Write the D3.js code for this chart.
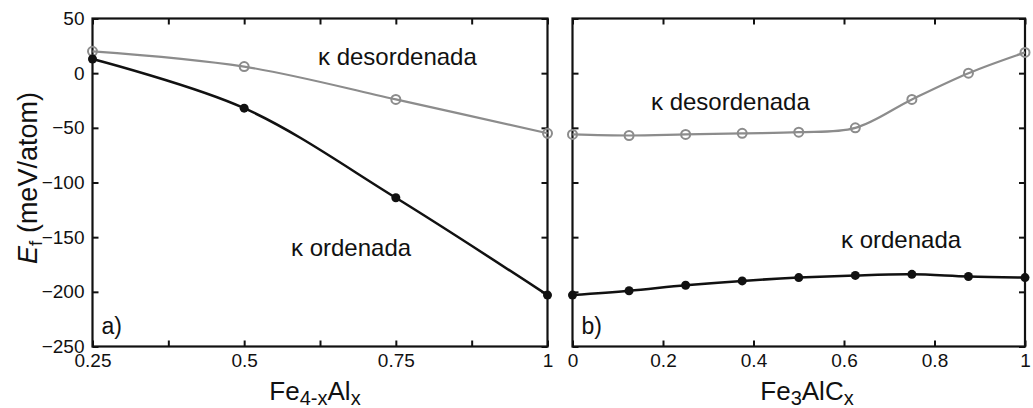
<!DOCTYPE html>
<html>
<head>
<meta charset="utf-8">
<script src="https://cdn.jsdelivr.net/npm/d3@7"></script>
<style>
  body { margin: 0; background: #fff; }
  text { font-family: "Liberation Sans", Arial, sans-serif; fill: #111; }
</style>
</head>
<body>
<div class="box"></div>
<script>
// panel a : Fe4-xAlx
const xA = [0.25, 0.5, 0.75, 1];
const desA = [20, 6, -24, -55];
const ordA = [13, -32, -114, -203];

// panel b : Fe3AlCx
const xB = [0, 0.125, 0.25, 0.375, 0.5, 0.625, 0.75, 0.875, 1];
const desB = [-56, -57, -56, -55, -54, -50, -24, 0, 19];
const ordB = [-203, -199, -194, -190, -187, -185, -184, -186, -187];

// ticks
const yTicks = [-250, -200, -150, -100, -50, 0, 50];
const xTicksA = [0.25, 0.375, 0.5, 0.625, 0.75, 0.875, 1];
const xLabelsA = [0.25, 0.5, 0.75, 1];
const xTicksB = [0, 0.2, 0.4, 0.6, 0.8, 1];

const W = 1033, H = 408;
const yTop = 18.5, yBot = 346.5;

const svg = d3.select('.box').append('svg')
              .attr('width', W)
              .attr('height', H);

const y = d3.scaleLinear().domain([-250, 50]).range([yBot, yTop]);

const panels = [
  {x: d3.scaleLinear().domain([0.25, 1]).range([92.5, 547.5]), xs: xA, des: desA, ord: ordA,
   ticks: xTicksA, fmt: d => xLabelsA.includes(d) ? String(d) : '', yLabels: true, tag: 'a)',
   desPos: [318, 65], ordPos: [291, 256]},
  {x: d3.scaleLinear().domain([0, 1]).range([572.5, 1025]), xs: xB, des: desB, ord: ordB,
   ticks: xTicksB, fmt: d => String(d), yLabels: false, tag: 'b)',
   desPos: [651, 110], ordPos: [841, 248]}
];

const line = (x) => d3.line()
                      .x(d => x(d[0]))
                      .y(d => y(d[1]))
                      .curve(d3.curveCatmullRom.alpha(0.5));

panels.forEach(p => {
  const x0 = p.x.range()[0], x1 = p.x.range()[1];
  const g = svg.append('g');

  // axes (ticks inward, all four sides)
  const bot = g.append('g').attr('transform', `translate(0, ${yBot})`)
               .call(d3.axisBottom(p.x).tickValues(p.ticks).tickFormat(p.fmt).tickSizeInner(-6).tickSizeOuter(0).tickPadding(7));
  const topAx = g.append('g').attr('transform', `translate(0, ${yTop})`)
               .call(d3.axisTop(p.x).tickValues(p.ticks).tickFormat('').tickSizeInner(-6).tickSizeOuter(0));
  const left = g.append('g').attr('transform', `translate(${x0}, 0)`)
               .call(d3.axisLeft(y).tickValues(yTicks).tickFormat(p.yLabels ? d3.format('d') : '').tickSizeInner(-6).tickSizeOuter(0).tickPadding(8));
  const right = g.append('g').attr('transform', `translate(${x1}, 0)`)
               .call(d3.axisRight(y).tickValues(yTicks).tickFormat('').tickSizeInner(-6).tickSizeOuter(0));

  [bot, topAx, left, right].forEach(a => {
    a.select('.domain').remove();
    a.selectAll('line').attr('stroke', '#111').attr('stroke-width', 2);
    a.selectAll('text').attr('font-size', 19).attr('fill', '#222')
     .style('font-family', '"Liberation Sans", Arial, sans-serif');
  });

  // frame
  g.append('rect')
   .attr('x', x0).attr('y', yTop)
   .attr('width', x1 - x0).attr('height', yBot - yTop)
   .attr('fill', 'none').attr('stroke', '#111').attr('stroke-width', 2.2);

  const des = p.xs.map((v, i) => [v, p.des[i]]);
  const ord = p.xs.map((v, i) => [v, p.ord[i]]);

  // courbe désordonnée
  g.append('path').datum(des)
   .attr('d', line(p.x))
   .attr('fill', 'none').attr('stroke', '#8c8c8c').attr('stroke-width', 2.2);
  g.selectAll('.des').data(des).enter().append('circle')
   .attr('cx', d => p.x(d[0])).attr('cy', d => y(d[1])).attr('r', 4.5)
   .attr('fill', 'none').attr('stroke', '#8c8c8c').attr('stroke-width', 2);

  // courbe ordonnée
  g.append('path').datum(ord)
   .attr('d', line(p.x))
   .attr('fill', 'none').attr('stroke', '#111').attr('stroke-width', 2.5);
  g.selectAll('.ord').data(ord).enter().append('circle')
   .attr('cx', d => p.x(d[0])).attr('cy', d => y(d[1])).attr('r', 4.5)
   .attr('fill', '#111');

  // labels
  g.append('text').attr('x', p.desPos[0]).attr('y', p.desPos[1])
   .attr('font-size', 24).text('κ desordenada');
  g.append('text').attr('x', p.ordPos[0]).attr('y', p.ordPos[1])
   .attr('font-size', 24).text('κ ordenada');
  g.append('text').attr('x', x0 + 9).attr('y', 334)
   .attr('font-size', 23).text(p.tag);
});

// x titles
const tA = svg.append('text').attr('x', 315).attr('y', 400).attr('text-anchor', 'middle').attr('font-size', 26);
tA.append('tspan').text('Fe');
tA.append('tspan').attr('font-size', 20).attr('dy', 5).text('4-x');
tA.append('tspan').attr('dy', -5).text('Al');
tA.append('tspan').attr('font-size', 20).attr('dy', 5).text('x');

const tB = svg.append('text').attr('x', 807).attr('y', 400).attr('text-anchor', 'middle').attr('font-size', 26);
tB.append('tspan').text('Fe');
tB.append('tspan').attr('font-size', 20).attr('dy', 5).text('3');
tB.append('tspan').attr('dy', -5).text('AlC');
tB.append('tspan').attr('font-size', 20).attr('dy', 5).text('x');

// y title
const tY = svg.append('text')
              .attr('transform', 'translate(37, 178) rotate(-90)')
              .attr('text-anchor', 'middle').attr('font-size', 27);
tY.append('tspan').attr('font-style', 'italic').text('E');
tY.append('tspan').attr('font-size', 19).attr('dy', 5).text('f');
tY.append('tspan').attr('dy', -5).text(' (meV/atom)');
</script>
</body>
</html>
